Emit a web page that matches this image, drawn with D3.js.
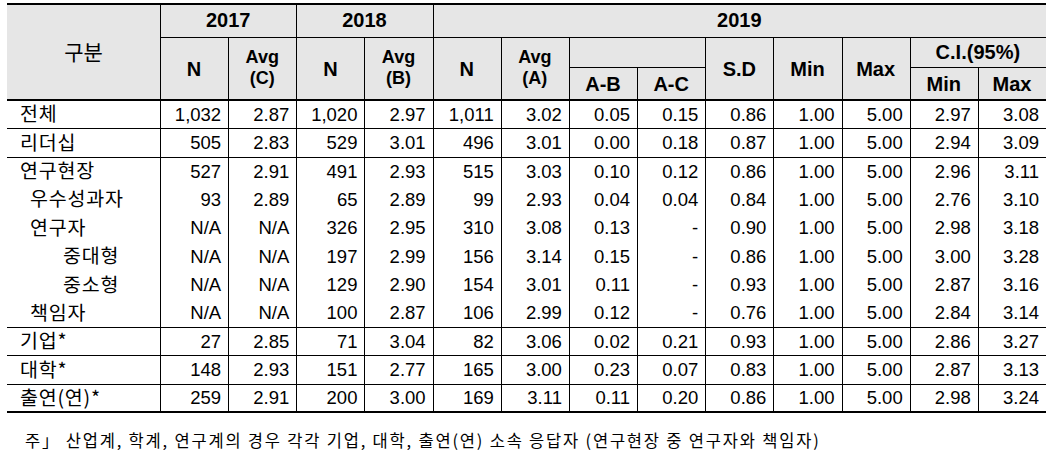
<!DOCTYPE html>
<html><head><meta charset="utf-8">
<script src="https://cdn.jsdelivr.net/npm/d3@7"></script>
<style>html,body{margin:0;padding:0;background:#fff;} svg{display:block}</style>
</head><body>
<svg id="chart" width="1054" height="459"></svg>
<script>
// ---------- data ----------
const stubLabel = "구분";
const rowLabels = ["전체","리더십","연구현장","우수성과자","연구자","중대형","중소형","책임자","기업*","대학*","출연(연)*"];
const rowLevels = [0,0,0,1,1,2,2,1,0,0,0];
const yearLabels = ["2017","2018","2019"];
const columnLabels = [["N"],["Avg","(C)"],["N"],["Avg","(B)"],["N"],["Avg","(A)"],["A-B"],["A-C"],["S.D"],["Min"],["Max"],["Min"],["Max"]];
const ciLabel = "C.I.(95%)";
const n2017   = [1032,505,527,93,null,null,null,null,27,148,259];
const avg2017 = [2.87,2.83,2.91,2.89,null,null,null,null,2.85,2.93,2.91];
const n2018   = [1020,529,491,65,326,197,129,100,71,151,200];
const avg2018 = [2.97,3.01,2.93,2.89,2.95,2.99,2.90,2.87,3.04,2.77,3.00];
const n2019   = [1011,496,515,99,310,156,154,106,82,165,169];
const avg2019 = [3.02,3.01,3.03,2.93,3.08,3.14,3.01,2.99,3.06,3.00,3.11];
const aMinusB = [0.05,0.00,0.10,0.04,0.13,0.15,0.11,0.12,0.02,0.23,0.11];
const aMinusC = [0.15,0.18,0.12,0.04,null,null,null,null,0.21,0.07,0.20];
const sd2019  = [0.86,0.87,0.86,0.84,0.90,0.86,0.93,0.76,0.93,0.83,0.86];
const min2019 = [1.00,1.00,1.00,1.00,1.00,1.00,1.00,1.00,1.00,1.00,1.00];
const max2019 = [5.00,5.00,5.00,5.00,5.00,5.00,5.00,5.00,5.00,5.00,5.00];
const ciMin   = [2.97,2.94,2.96,2.76,2.98,3.00,2.87,2.84,2.86,2.87,2.98];
const ciMax   = [3.08,3.09,3.11,3.10,3.18,3.28,3.16,3.14,3.27,3.13,3.24];
const footnote = "주」 산업계, 학계, 연구계의 경우 각각 기업, 대학, 출연(연) 소속 응답자 (연구현장 중 연구자와 책임자)";

// ---------- layout ----------
const columns = [n2017,avg2017,n2018,avg2018,n2019,avg2019,aMinusB,aMinusC,sd2019,min2019,max2019,ciMin,ciMax];
const isCount = [true,false,true,false,true,false,false,false,false,false,false,false,false];
const missingText = ["N/A","N/A","","","","","","-","","","","",""];
const fmtN = d3.format(","), fmtV = d3.format(".2f");

const svg = d3.select("#chart");
const L = 7, R = 1046, stubR = 160;
const hTop = 3.5, hYear = 37, hSub = 67.5, hBot = 100, bBot = 412;
const x = d3.scaleBand().domain(d3.range(columns.length)).range([stubR, R]);
const y = d3.scaleBand().domain(d3.range(rowLabels.length)).range([hBot, bBot]);
const xe = i => i >= columns.length ? R : x(i);  // left edge of column i

const NUMF = "'Liberation Sans', Arial, sans-serif";
const KRF = "'Noto Sans CJK KR', sans-serif";
const HFS = 20;

// header background
svg.append("rect").attr("x", L).attr("y", hTop).attr("width", R - L).attr("height", hBot - hTop).attr("fill", "#e6e6e6");

const lines = svg.append("g").attr("stroke", "#000").attr("shape-rendering", "crispEdges");
function hl(x1, x2, yy, w) { lines.append("line").attr("x1", x1).attr("x2", x2).attr("y1", yy).attr("y2", yy).attr("stroke-width", w || 1); }
function vl(xx, y1, y2) { lines.append("line").attr("x1", xx).attr("x2", xx).attr("y1", y1).attr("y2", y2).attr("stroke-width", 1); }

// header lines
hl(L, R, hTop, 2);
hl(stubR, R, hYear);
hl(xe(6), xe(8), hSub);
hl(xe(11), R, hSub);
// verticals
vl(stubR, hTop, bBot);
const vStart = {1: hYear, 2: hTop, 3: hYear, 4: hTop, 5: hYear, 6: hYear, 7: hSub, 8: hYear, 9: hYear, 10: hYear, 11: hYear, 12: hSub};
d3.range(1, columns.length).forEach(i => vl(Math.round(xe(i)), vStart[i], bBot));
// body horizontals
[1, 2, 8, 9, 10].forEach(r => hl(L, R, Math.round(y(r)) + 0.5));
hl(L, R, hBot, 2);
hl(L, R, bBot, 2);

// header text
const ht = svg.append("g").attr("font-family", NUMF).attr("font-weight", "bold").attr("font-size", HFS).attr("fill", "#000").attr("text-anchor", "middle");
svg.append("text").attr("x", (L + stubR) / 2).attr("y", 52 + 0.37 * 21).attr("font-family", KRF).attr("font-size", 21)
  .attr("text-anchor", "middle").attr("fill", "#000").text(stubLabel);
const yearSpans = [[0, 2], [2, 4], [4, 13]];
yearLabels.forEach((lab, i) => {
  const cx = (xe(yearSpans[i][0]) + xe(yearSpans[i][1])) / 2;
  ht.append("text").attr("x", cx).attr("y", (hTop + hYear) / 2 + 0.36 * HFS).text(lab);
});
ht.append("text").attr("x", (xe(11) + R) / 2).attr("y", (hYear + hSub) / 2 + 0.36 * HFS).text(ciLabel);
columnLabels.forEach((lab, i) => {
  const cx = (xe(i) + xe(i + 1)) / 2;
  const sub = (i === 6 || i === 7 || i === 11 || i === 12);
  const cy = sub ? (hSub + hBot) / 2 : (hYear + hBot) / 2;
  if (lab.length === 1) {
    ht.append("text").attr("x", cx).attr("y", cy + 0.36 * HFS).text(lab[0]);
  } else {
    ht.append("text").attr("x", cx).attr("y", cy - 5.5).attr("font-size", 18).text(lab[0]);
    ht.append("text").attr("x", cx).attr("y", cy + 15).attr("font-size", 18).text(lab[1]);
  }
});

// body text
const labelX = [20, 30, 63];
const body = svg.append("g");
rowLabels.forEach((lab, r) => {
  const cy = y(r) + y.bandwidth() / 2;
  body.append("text").attr("x", labelX[rowLevels[r]]).attr("y", cy + 0.37 * 19.5)
    .attr("font-family", KRF).attr("font-size", 19.5).attr("letter-spacing", 0.8).attr("fill", "#000").text(lab);
});
columns.forEach((col, c) => {
  col.forEach((v, r) => {
    const cy = y(r) + y.bandwidth() / 2;
    const t = v == null ? missingText[c] : (isCount[c] ? fmtN(v) : fmtV(v));
    body.append("text").attr("x", xe(c + 1) - 7).attr("y", cy + 0.36 * 18.5)
      .attr("font-family", NUMF).attr("font-size", 18.5).attr("text-anchor", "end").attr("fill", "#000").text(t);
  });
});

// footnote
svg.append("text").attr("x", 25).attr("y", 440.5 + 0.37 * 16.5).attr("font-family", KRF).attr("font-size", 16.5)
  .attr("letter-spacing", 1.8).attr("fill", "#000").text(footnote);
</script>
</body></html>
